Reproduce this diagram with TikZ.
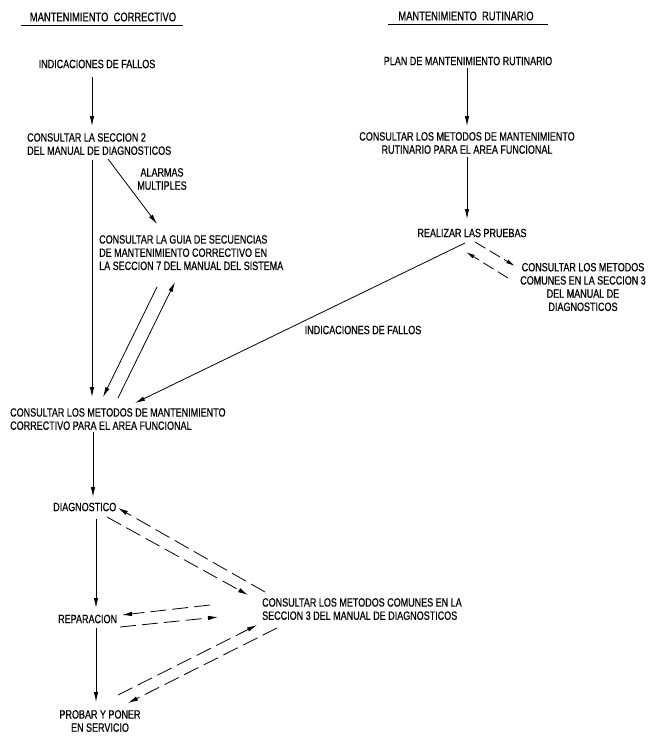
\documentclass[tikz,border=0pt]{standalone}
\usepackage{fontspec}
\setmainfont[FakeStretch=0.75,FakeBold=0.4]{Liberation Sans}
\usetikzlibrary{arrows.meta}
\begin{document}
\begin{tikzpicture}[x=1pt,y=-1pt,
  lbl/.style={inner sep=0pt,font=\fontsize{12}{13.2}\selectfont},
  ttl/.style={inner sep=0pt,font=\fontsize{12.5}{13}\selectfont},
  arr/.style={line width=0.8pt,-{Latex[length=10pt,width=4.5pt]}},
  darr/.style={line width=0.8pt,dash pattern=on 16pt off 6pt,-{Latex[length=10pt,width=4.5pt]}},
  dsarr/.style={line width=0.8pt,dash pattern=on 12pt off 5pt,-{Latex[length=9pt,width=4pt]}}]
\useasboundingbox (0,0) rectangle (650,736);
\fill[white] (0,0) rectangle (650,736);

% titles
\node[ttl] (t1) at (103,17) {MANTENIMIENTO\ \ CORRECTIVO};
\node[ttl] (t2) at (466,16) {MANTENIMIENTO\ \ RUTINARIO};
\draw[line width=0.8pt] (21,25) -- (183,25);
\draw[line width=0.8pt] (388,24) -- (548,24);

% left column
\node[lbl] (a1) at (97,64) {INDICACIONES DE FALLOS};
\node[lbl,anchor=north west,align=left] (a2) at (27,133) {CONSULTAR LA SECCION 2\\DEL MANUAL DE DIAGNOSTICOS};
\node[lbl,align=center] (alm) at (162,179) {ALARMAS\\MULTIPLES};
\node[lbl,anchor=north west,align=left] (guia) at (99,235) {CONSULTAR LA GUIA DE SECUENCIAS\\DE MANTENIMIENTO CORRECTIVO EN\\LA SECCION 7 DEL MANUAL DEL SISTEMA};
\node[lbl,anchor=north west,align=left] (cmc) at (10,408) {CONSULTAR LOS METODOS DE MANTENIMIENTO\\CORRECTIVO PARA EL AREA FUNCIONAL};
\node[lbl,anchor=west] (diag) at (53,507) {DIAGNOSTICO};
\node[lbl,anchor=west] (rep) at (58,619) {REPARACION};
\node[lbl,align=center] (prob) at (100,721) {PROBAR Y PONER\\EN SERVICIO};
\node[lbl,anchor=north west,align=left] (com) at (262,598) {CONSULTAR LOS METODOS COMUNES EN LA\\SECCION 3 DEL MANUAL DE DIAGNOSTICOS};

% right column
\node[lbl] (r1) at (468,61) {PLAN DE MANTENIMIENTO RUTINARIO};
\node[lbl,align=center] (r2) at (467,143) {CONSULTAR LOS METODOS DE MANTENIMIENTO\\RUTINARIO PARA EL AREA FUNCIONAL};
\node[lbl] (r3) at (472,233) {REALIZAR LAS PRUEBAS};
\node[lbl,align=center] (r4) at (583,287) {CONSULTAR LOS METODOS\\COMUNES EN LA SECCION 3\\DEL MANUAL DE\\DIAGNOSTICOS};
\node[lbl] (ind) at (363,330) {INDICACIONES DE FALLOS};

% connector end points
\coordinate (a1s) at (92,77);   \coordinate (a2n) at (92,126);
\coordinate (a2e) at (108,159); \coordinate (guian) at (157,224);
\coordinate (a2s) at (92,160);  \coordinate (cmcn1) at (92,397);
\coordinate (guias1) at (157,287); \coordinate (cmcn2) at (103,397);
\coordinate (cmcn3) at (118,398);  \coordinate (guias2) at (175,282);
\coordinate (r3w) at (465,243);    \coordinate (cmcn4) at (135,403);
\coordinate (cmcs) at (93,432);    \coordinate (diagn) at (93,497);
\coordinate (r1s) at (467,68);     \coordinate (r2n) at (467,126);
\coordinate (r2s) at (467,157);    \coordinate (r3n) at (467,219);
\coordinate (r3e1) at (475,242);   \coordinate (r4w1) at (515,266);
\coordinate (r4w2) at (508,278);   \coordinate (r3e2) at (466,252);
\coordinate (comw1) at (265,592);  \coordinate (diage1) at (118,508);
\coordinate (diage2) at (107,517); \coordinate (comw2) at (248,595);
\coordinate (diags) at (96,519);   \coordinate (repn) at (96,608);
\coordinate (comw3) at (210,605);  \coordinate (repe1) at (122,615);
\coordinate (repe2) at (120,627);  \coordinate (comw4) at (218,617);
\coordinate (reps) at (96,628);    \coordinate (probn) at (96,702);
\coordinate (probe1) at (118,695); \coordinate (comw5) at (257,625);
\coordinate (comw6) at (277,628);  \coordinate (probe2) at (128,703);

% solid connectors
\draw[arr] (a1s) -- (a2n);
\draw[arr] (a2e) -- (guian);
\draw[arr] (a2s) -- (cmcn1);
\draw[arr] (guias1) -- (cmcn2);
\draw[arr] (cmcn3) -- (guias2);
\draw[arr] (r3w) -- (cmcn4);
\draw[arr] (cmcs) -- (diagn);
\draw[arr] (r1s) -- (r2n);
\draw[arr] (r2s) -- (r3n);
\draw[arr] (diags) -- (repn);
\draw[arr] (reps) -- (probn);

% dashed connectors
\draw[dsarr] (r3e1) -- (r4w1);
\draw[dsarr] (r4w2) -- (r3e2);
\draw[darr] (comw1) -- (diage1);
\draw[darr] (diage2) -- (comw2);
\draw[darr] (comw3) -- (repe1);
\draw[darr] (repe2) -- (comw4);
\draw[darr] (probe1) -- (comw5);
\draw[darr] (comw6) -- (probe2);
\end{tikzpicture}
\end{document}
